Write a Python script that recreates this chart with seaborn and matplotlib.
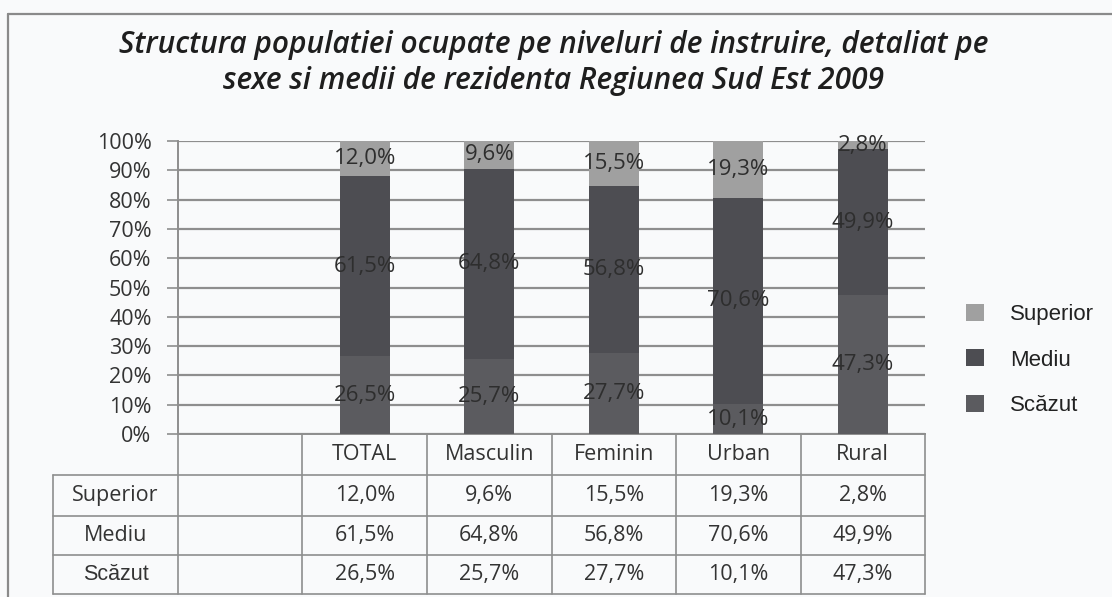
import matplotlib
matplotlib.use('Agg')
import matplotlib.pyplot as plt
import seaborn as sns
import pandas as pd
from matplotlib.patches import Patch
from matplotlib.lines import Line2D
from matplotlib import font_manager as fm

# ---------------- data ----------------
categories = ['TOTAL', 'Masculin', 'Feminin', 'Urban', 'Rural']
superior = [12.0, 9.6, 15.5, 19.3, 2.8]
mediu = [61.5, 64.8, 56.8, 70.6, 49.9]
scazut = [26.5, 25.7, 27.7, 10.1, 47.3]
series_names = ['Superior', 'Mediu', 'Scăzut']
yticks = [0, 10, 20, 30, 40, 50, 60, 70, 80, 90, 100]
title = ("Structura populatiei ocupate pe niveluri de instruire, detaliat pe\n"
         "sexe si medii de rezidenta Regiunea Sud Est 2009")

# ---------------- style ----------------
W, H = 1112, 597
bg = '#f9fafb'
c_sup, c_med, c_sca = '#a0a0a0', '#4d4d52', '#5b5b5f'
line_c = '#8e8e8e'
txt_c = '#2e2e2e'

avail = {f.name for f in fm.fontManager.ttflist}
def pick(*names):
    for n in names:
        if n in avail:
            return n
    return 'DejaVu Sans'

title_font = pick('Open Sans', 'Lato', 'DejaVu Sans')
main_font = pick('Open Sans', 'Lato', 'DejaVu Sans')
arial_font = pick('Liberation Sans', 'DejaVu Sans')

sns.set_theme(style='white')
plt.rcParams['font.family'] = [main_font, 'DejaVu Sans']

fig = plt.figure(figsize=(W / 100, H / 100), dpi=100)
fig.patch.set_facecolor(bg)

def fx(x):
    return x / W

def fy(y):
    return 1 - y / H

ax_left, ax_right, ax_top, ax_bot = 178, 925, 141, 434
ax = fig.add_axes([fx(ax_left), fy(ax_bot), (ax_right - ax_left) / W, (ax_bot - ax_top) / H])
ax.set_facecolor(bg)

df = pd.DataFrame({'cat': categories, 'Superior': superior, 'Mediu': mediu, 'Scazut': scazut})
df['c1'] = df['Scazut']
df['c2'] = df['Scazut'] + df['Mediu']
df['c3'] = df['c2'] + df['Superior']

for col, color in [('c3', c_sup), ('c2', c_med), ('c1', c_sca)]:
    sns.barplot(data=df, x='cat', y=col, order=categories, color=color,
                saturation=1, width=0.4, ax=ax, errorbar=None, zorder=3,
                linewidth=0, edgecolor=color)

ax.set_xlim(-1.5, len(categories) - 0.5)
ax.set_ylim(0, 100)
ax.set_yticks(yticks)
ax.set_yticklabels([f'{v}%' for v in yticks], fontsize=15.5, color='#333333')
ax.set_xticks([])
ax.set_xlabel('')
ax.set_ylabel('')
ax.yaxis.grid(True, color=line_c, lw=1.6)
ax.set_axisbelow(True)
ax.tick_params(axis='y', left=True, length=8, width=1.2, color=line_c, pad=11)
for s in ['top', 'right']:
    ax.spines[s].set_visible(False)
for s in ['left', 'bottom']:
    ax.spines[s].set_color(line_c)
    ax.spines[s].set_linewidth(1.4)

# segment labels at segment centres
for i in range(len(categories)):
    s, m, u = scazut[i], mediu[i], superior[i]
    for val, center in [(s, s / 2), (m, s + m / 2), (u, s + m + u / 2)]:
        ax.text(i, center, f'{val:.1f}%'.replace('.', ','), ha='center', va='center',
                fontsize=16, color=txt_c, zorder=5)

# ---------------- title ----------------
fig.text(fx(554), fy(63), title, ha='center', va='center', fontsize=21.5,
         style='italic', fontweight='semibold', color='#1e1e1e', linespacing=1.3,
         family=title_font)

# ---------------- legend ----------------
handles = [Patch(facecolor=c, edgecolor='none') for c in (c_sup, c_med, c_sca)]
leg = fig.legend(handles, series_names, loc='center left', bbox_to_anchor=(fx(946), fy(360)),
                 frameon=False, handlelength=0.8, handleheight=0.8, labelspacing=1.1,
                 handletextpad=1.2, prop={'family': arial_font, 'size': 16})
for t in leg.get_texts():
    t.set_color('#222222')

# ---------------- data table ----------------
slot = (ax_right - ax_left) / (len(categories) + 1)
col_edges = [ax_left + k * slot for k in range(len(categories) + 2)]
row_edges = [ax_bot, 475, 516, 555, 594]
tbl_left = 53

def hline(y, x0, x1):
    fig.add_artist(Line2D([fx(x0), fx(x1)], [fy(y), fy(y)], color=line_c, lw=1.2,
                          transform=fig.transFigure))

def vline(x, y0, y1):
    fig.add_artist(Line2D([fx(x), fx(x)], [fy(y0), fy(y1)], color=line_c, lw=1.2,
                          transform=fig.transFigure))

for y in row_edges[1:]:
    hline(y, tbl_left, ax_right)
vline(tbl_left, row_edges[1], row_edges[-1])
for x in col_edges:
    vline(x, ax_bot, row_edges[-1])

# header
for k, cat in enumerate(categories):
    xc = (col_edges[k + 1] + col_edges[k + 2]) / 2
    fig.text(fx(xc), fy((row_edges[0] + row_edges[1]) / 2), cat, ha='center', va='center',
             fontsize=15.5, color='#333333')

rows = [superior, mediu, scazut]
for r, (name, vals) in enumerate(zip(series_names, rows)):
    yc = (row_edges[r + 1] + row_edges[r + 2]) / 2
    fam = arial_font if name == 'Scăzut' else main_font
    fig.text(fx((tbl_left + ax_left) / 2), fy(yc), name, ha='center', va='center',
             fontsize=15.5, color='#333333', family=fam)
    for k, v in enumerate(vals):
        xc = (col_edges[k + 1] + col_edges[k + 2]) / 2
        fig.text(fx(xc), fy(yc), f'{v:.1f}%'.replace('.', ','), ha='center', va='center',
                 fontsize=15.5, color='#333333')

# outer frame (top and left edges)
fig.add_artist(Line2D([fx(8), 1], [fy(14), fy(14)], color='#8a8a8a', lw=1.6, transform=fig.transFigure))
fig.add_artist(Line2D([fx(8), fx(8)], [fy(14), 0], color='#8a8a8a', lw=1.6, transform=fig.transFigure))

fig.savefig('out.png', dpi=100, facecolor=bg)
